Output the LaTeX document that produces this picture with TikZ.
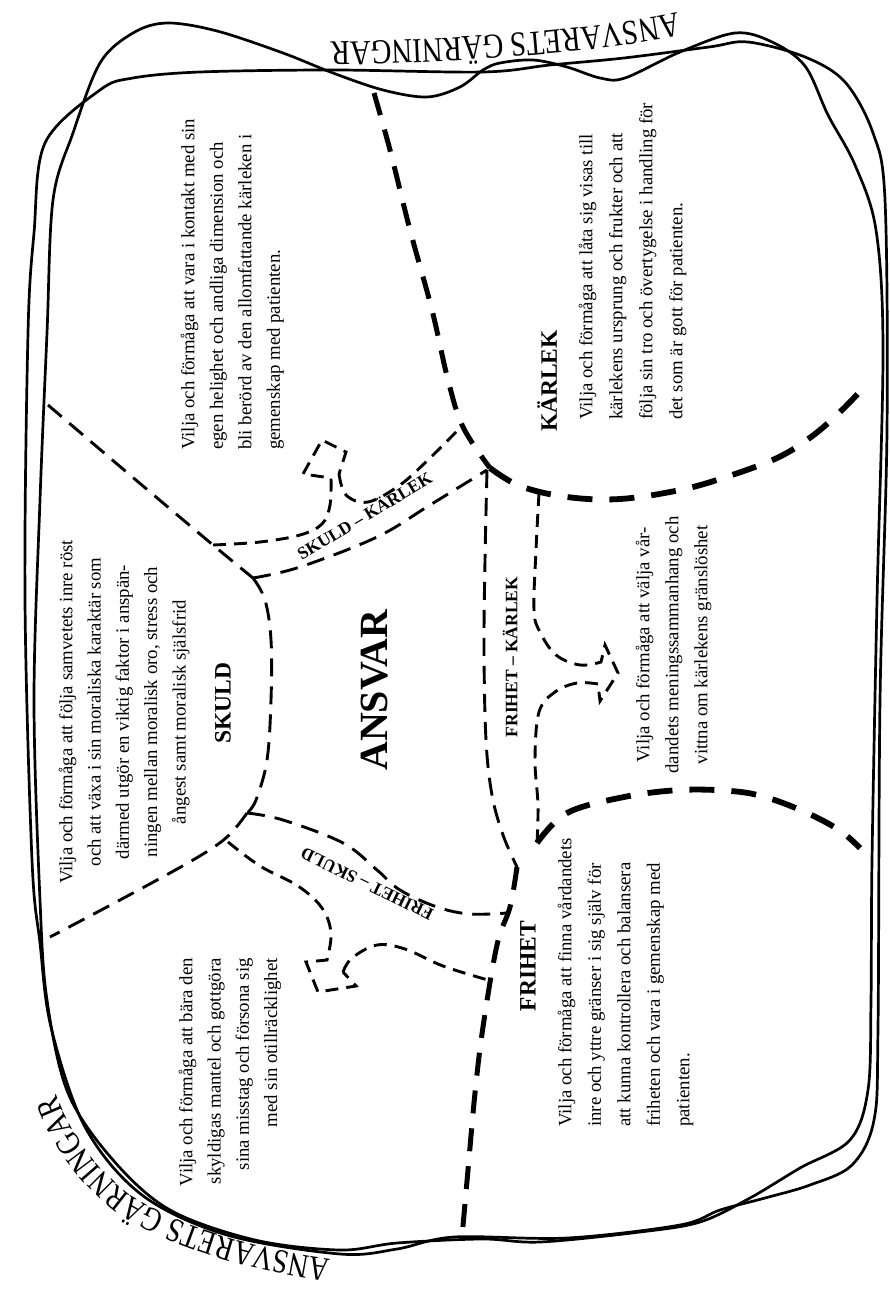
\documentclass[tikz,border=0pt]{standalone}
\usepackage{fontspec}
\setmainfont{Liberation Serif}
\newfontfamily\titlefont[FakeStretch=0.82]{Liberation Serif}
\usetikzlibrary{decorations.text}
\begin{document}
\begin{tikzpicture}[x=1pt,y=-1pt,
  loopline/.style={line width=2.7pt, line join=round},
  heavy/.style={line width=5pt, dash pattern=on 23pt off 15pt},
  heavyarc/.style={line width=5.8pt, dash pattern=on 25pt off 17pt},
  thindash/.style={line width=2.9pt, dash pattern=on 18pt off 10pt},
  arrowdash/.style={line width=2.9pt, dash pattern=on 13pt off 8pt, line join=miter},
  bodytext/.style={rotate=90, inner sep=0pt, font=\fontsize{18.8}{28.5}\selectfont},
  headtext/.style={rotate=90, inner sep=0pt, font=\fontsize{23.5}{23.5}\selectfont\bfseries},
  bandtext/.style={inner sep=0pt, font=\fontsize{17.5}{17.5}\selectfont\bfseries},
]
\useasboundingbox (0,0) rectangle (889,1289);

% outer loops
\draw[loopline] plot[smooth cycle, tension=0.55] coordinates {
 (167,23) (217,31) (283,53) (333,73) (383,90) (427,97) (460,87) (483,70) (500,63) (533,60)
 (567,67) (600,78) (625,78) (680,52) (735,33) (772,42) (805,66) (828,115) (855,165) (876,230) (883,350)
 (877,600) (872,860) (871,1000) (868,1090) (850,1140) (800,1168) (750,1198) (700,1222) (640,1232)
 (540,1242) (482,1239) (397,1243) (340,1250) (255,1240) (170,1210) (113,1160) (68,1093)
 (47,1000) (40,900) (34,700) (40,500) (47,333) (53,200) (73,133) (100,63) (133,33)};
\draw[loopline] plot[smooth cycle, tension=0.55] coordinates {
 (133,78) (200,72) (333,70) (483,72) (550,65) (624,58) (709,47) (748,42) (805,57) (845,82)
 (873,133) (885,200) (887,430) (880,700) (878,1027) (874,1120) (852,1165) (810,1185)
 (765,1198) (720,1210) (680,1225) (567,1238) (454,1237) (397,1249) (340,1254) (227,1235)
 (142,1195) (85,1127) (51,1027) (40,943) (32,860) (25,600) (28,333) (34,233) (45,143) (100,90)};

% curved titles
\path[decorate, decoration={text along path, text align=center,
  text={|\titlefont\fontsize{35}{35}\selectfont|ANSVARETS GÄRNINGAR}}]
  (680,12) .. controls (600,30) and (450,40) .. (328,42);
\path[decorate, decoration={text along path, text align=center,
  text={|\titlefont\fontsize{34}{34}\selectfont|ANSVARETS GÄRNINGAR}}]
  (350,1262) .. controls (270,1252) and (190,1232) .. (135,1198)
  .. controls (95,1172) and (65,1125) .. (50,1076);

% heavy dashed cross
\draw[heavy] plot[smooth, tension=0.6] coordinates {(374,93) (390,150) (410,230) (432,310) (448,380) (463,427) (490,468)};
\draw[heavyarc] plot[smooth, tension=0.6] coordinates {(490,468) (520,486) (567,497) (620,499) (680,490) (726,477) (777,458) (811,437) (840,412) (866,385)};
\draw[heavyarc] plot[smooth, tension=0.6] coordinates {(537,843) (567,813) (624,797) (680,790) (731,791) (765,797) (805,812) (839,830) (860,848)};
\draw[heavy] plot[smooth, tension=0.6] coordinates {(517,867) (510,907) (497,945) (483,1027) (475,1093) (468,1170) (462,1237)};

% thin dashed boundaries
\draw[thindash] plot[smooth, tension=0.6] coordinates {(48,405) (130,475) (213,545) (253,578)};
\draw[thindash] plot[smooth, tension=0.6] coordinates {(253,578) (265,600) (271,640) (271,700) (267,760) (256,800) (247,813)};
\draw[thindash] plot[smooth, tension=0.6] coordinates {(247,813) (227,837) (193,860) (120,900) (50,937)};

% SKULD - KÄRLEK band
\draw[thindash] plot[smooth, tension=0.6] coordinates {(253,578) (300,567) (377,537) (430,505) (487,470)};
\draw[arrowdash] plot[smooth, tension=0.6] coordinates {(213,545) (260,542) (300,535) (322,524) (330,505) (331,478)}
  -- (303,474) -- (322,440) -- (346,452) -- (339,474);
\draw[arrowdash] plot[smooth, tension=0.6] coordinates {(339,474) (346,495) (368,502) (400,485) (430,458) (463,425)};

% FRIHET - KÄRLEK band
\draw[thindash] plot[smooth, tension=0.6] coordinates {(487,470) (485,560) (484,650) (486,740) (492,795) (503,835) (517,867)};
\draw[arrowdash] plot[smooth, tension=0.6] coordinates {(539,493) (536,550) (534,610) (540,632) (556,655) (580,665) (601,662)}
  -- (605,645) -- (618,673) -- (600,701) -- (598,684);
\draw[arrowdash] plot[smooth, tension=0.6] coordinates {(598,684) (577,683) (555,692) (539,712) (535,760) (538,805) (537,843)};

% FRIHET - SKULD band
\draw[thindash] plot[smooth, tension=0.6] coordinates {(247,813) (283,820) (343,843) (377,870) (400,890) (437,907) (470,914) (507,913)};
\draw[arrowdash] plot[smooth, tension=0.6] coordinates {(228,842) (260,866) (298,886) (322,908) (331,933) (327,960)}
  -- (306,962) -- (318,992) -- (356,986) -- (343,972);
\draw[arrowdash] plot[smooth, tension=0.6] coordinates {(343,972) (352,958) (377,945) (405,949) (443,966) (488,980)};

% band labels
\node[bandtext, rotate=31] (lsk) at (364,515) {SKULD – KÄRLEK};
\node[bandtext, rotate=90] (lfk) at (510,657) {FRIHET – KÄRLEK};
\node[bandtext, rotate=154] (lfs) at (367,884) {FRIHET – SKULD};

% centre
\node[rotate=90, inner sep=0pt, font=\fontsize{40}{40}\selectfont\bfseries] (ansvar) at (375,690) {ANSVAR};

% headings
\node[headtext] (hskuld) at (223,703) {SKULD};
\node[headtext] (hkarlek) at (547,381) {KÄRLEK};
\node[headtext] (hfrihet) at (528,966) {FRIHET};

% text blocks
\node[bodytext, align=left, anchor=north west] (ta) at (180.5,450) {Vilja och förmåga att vara i kontakt med sin\\egen helighet och andliga dimension och\\bli berörd av den allomfattande kärleken i\\gemenskap med patienten.};
\node[bodytext, font=\fontsize{18.8}{30}\selectfont, align=left, anchor=north west] (tb) at (578.5,420) {Vilja och förmåga att låta sig visas till\\kärlekens ursprung och frukter och att\\följa sin tro och övertygelse i handling för\\det som är gott för patienten.};
\node[bodytext, font=\fontsize{18.8}{28.3}\selectfont, align=center, anchor=north] (tc) at (58.5,712) {Vilja och förmåga att följa samvetets inre röst\\och att växa i sin moraliska karaktär som\\därmed utgör en viktig faktor i anspän-\\ningen mellan moralisk oro, stress och\\ångest samt moralisk själsfrid};
\node[bodytext, font=\fontsize{18.8}{28.3}\selectfont, align=right, anchor=north east] (td) at (178.5,958) {Vilja och förmåga att bära den\\skyldigas mantel och gottgöra\\sina misstag och försona sig\\med sin otillräcklighet};
\node[bodytext, font=\fontsize{18.8}{29.5}\selectfont, align=left, anchor=north west] (te) at (557.5,1127) {Vilja och förmåga att finna vårdandets\\inre och yttre gränser i sig själv för\\att kunna kontrollera och balansera\\friheten och vara i gemenskap med\\patienten.};
\node[bodytext, font=\fontsize{18.8}{29}\selectfont, align=center, anchor=north] (tf) at (635.5,645) {Vilja och förmåga att välja vår-\\dandets meningssammanhang och\\vittna om kärlekens gränslöshet};
\end{tikzpicture}
\end{document}
